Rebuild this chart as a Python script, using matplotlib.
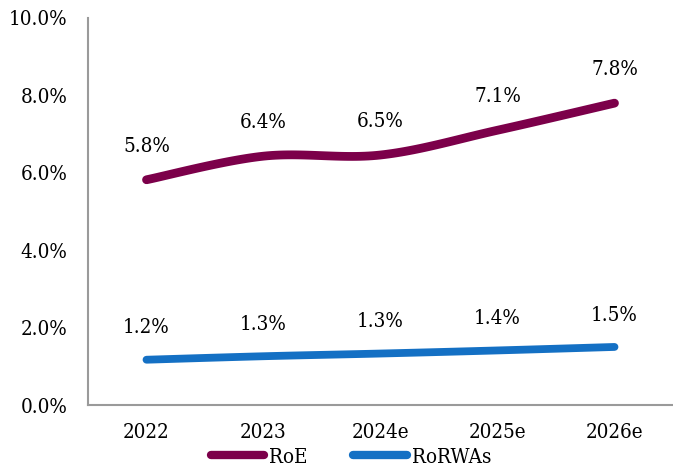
import matplotlib
matplotlib.use("Agg")
import matplotlib.pyplot as plt
import numpy as np
from matplotlib.lines import Line2D
from matplotlib import font_manager

categories = ["2022", "2023", "2024e", "2025e", "2026e"]
roe = [5.82, 6.43, 6.46, 7.1, 7.8]
rorwas = [1.17, 1.26, 1.33, 1.41, 1.50]
yticks = [0, 2, 4, 6, 8, 10]

plt.rcParams['font.family'] = ['DejaVu Serif']
stretch = 'condensed' if any('Condensed' in f.fname and 'Serif' in f.fname
                              for f in font_manager.fontManager.ttflist) else 'normal'
plt.rcParams['font.stretch'] = stretch
FS = 14.8

def smooth(x, y, n=30):
    x = np.asarray(x, float); y = np.asarray(y, float)
    xs, ys = [], []
    m = len(x)
    for i in range(m - 1):
        p0 = np.array([x[max(i-1, 0)], y[max(i-1, 0)]])
        p1 = np.array([x[i], y[i]])
        p2 = np.array([x[i+1], y[i+1]])
        p3 = np.array([x[min(i+2, m-1)], y[min(i+2, m-1)]])
        c1 = p1 + (p2 - p0) / 6
        c2 = p2 - (p3 - p1) / 6
        t = np.linspace(0, 1, n)[:, None]
        pts = (1-t)**3*p1 + 3*(1-t)**2*t*c1 + 3*(1-t)*t**2*c2 + t**3*p2
        xs.extend(pts[:, 0]); ys.extend(pts[:, 1])
    return np.array(xs), np.array(ys)

fig = plt.figure(figsize=(6.73, 4.73), dpi=100)
ax = fig.add_axes([88/673, 1-405/473, (673-88)/673, (405-18)/473])

x = np.arange(len(categories))
c_roe = "#7C004A"
c_rw = "#1470C4"
sx, sy = smooth(x, roe)
ax.plot(sx, sy, color=c_roe, lw=6.3, solid_capstyle='round')
sx, sy = smooth(x, rorwas)
ax.plot(sx, sy, color=c_rw, lw=5.6, solid_capstyle='round')

for xi, v in zip(x, roe):
    ax.annotate(f"{v:.1f}%", (xi, v), xytext=(0, 24), textcoords='offset points',
                ha='center', va='center', fontsize=FS)
for xi, v in zip(x, rorwas):
    ax.annotate(f"{v:.1f}%", (xi, v), xytext=(0, 23), textcoords='offset points',
                ha='center', va='center', fontsize=FS)

ax.set_xlim(-0.5, len(categories) - 0.5)
ax.set_ylim(0, 10)
ax.set_yticks(yticks)
ax.set_yticklabels([f"{t:.1f}%" for t in yticks])
ax.set_xticks(x)
ax.set_xticklabels(categories)
ax.tick_params(length=0, labelsize=FS)
ax.tick_params(axis='y', pad=15)
ax.tick_params(axis='x', pad=13)
for s in ['top', 'right']:
    ax.spines[s].set_visible(False)
for s in ['left', 'bottom']:
    ax.spines[s].set_color('#9a9a9a')
    ax.spines[s].set_linewidth(1.5)

handles = [Line2D([], [], color=c_roe, lw=6, solid_capstyle='round'),
           Line2D([], [], color=c_rw, lw=6, solid_capstyle='round')]
fig.legend(handles, ["RoE", "RoRWAs"], loc='center', bbox_to_anchor=(351/673, 1-457/473),
           ncol=2, frameon=False, fontsize=FS, handlelength=2.6, handletextpad=0.25,
           columnspacing=2.2)

fig.savefig("out.png", dpi=100)
